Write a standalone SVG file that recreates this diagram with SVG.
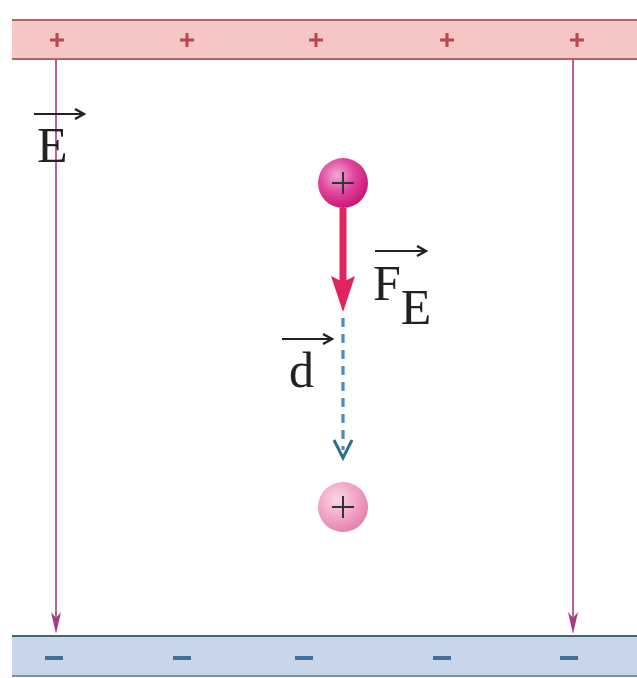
<svg xmlns="http://www.w3.org/2000/svg" width="637" height="678" viewBox="0 0 637 678">
<style>
.plus{stroke:#b8474f;stroke-width:3;fill:none}
.minus{stroke:#3f6f9a;stroke-width:4;fill:none}
.field{stroke:#a83a7e;stroke-width:1.6;fill:none}
.fhead{fill:#a83a7e}
.lbl{font-family:"Liberation Serif",serif;fill:#222}
.vec{stroke:#222;stroke-width:2.2;fill:none}
.cplus{stroke:#333;stroke-width:2;fill:none}
</style>
<defs>
<marker id="vecHead" markerWidth="12" markerHeight="12" refX="10" refY="6" orient="auto" markerUnits="userSpaceOnUse" viewBox="0 0 12 12">
<path d="M1,1 L10,6 L1,11" fill="none" stroke="#222" stroke-width="2.4"/>
</marker>
<radialGradient id="gq1" cx="0.38" cy="0.35" r="0.7">
<stop offset="0" stop-color="#f6a8d8"/>
<stop offset="0.5" stop-color="#e0469e"/>
<stop offset="1" stop-color="#c8136e"/>
</radialGradient>
<radialGradient id="gq2" cx="0.38" cy="0.35" r="0.7">
<stop offset="0" stop-color="#fbd6e6"/>
<stop offset="0.6" stop-color="#f0a0c4"/>
<stop offset="1" stop-color="#e27fad"/>
</radialGradient>
</defs>
<rect width="637" height="678" fill="#ffffff"/>

<g id="top-plate">
<rect x="12" y="20" width="625" height="39" fill="#f5c6c4"/>
<line x1="12" y1="20" x2="637" y2="20" stroke="#a86868" stroke-width="2"/>
<line x1="12" y1="59" x2="637" y2="59" stroke="#a86868" stroke-width="2"/>
<path class="plus" d="M50,40 h14 M57,33 v14 M180,40 h14 M187,33 v14 M309,40 h14 M316,33 v14 M440,40 h14 M447,33 v14 M570,40 h14 M577,33 v14"/>
</g>

<g id="bottom-plate">
<rect x="12" y="636" width="625" height="40" fill="#c8d5ea"/>
<line x1="12" y1="636" x2="637" y2="636" stroke="#3d6872" stroke-width="2"/>
<line x1="12" y1="676" x2="637" y2="676" stroke="#7f93a8" stroke-width="2"/>
<path class="minus" d="M45,658 h18 M173,658 h18 M295,658 h18 M433,658 h18 M560,658 h18"/>
</g>

<g id="connectors">
<line class="field" x1="56" y1="60" x2="56" y2="624"/>
<path class="fhead" d="M51,612 L56,634 L61,612 L56,618 Z"/>
<line class="field" x1="573" y1="60" x2="573" y2="624"/>
<path class="fhead" d="M568,612 L573,634 L578,612 L573,618 Z"/>
<line x1="343" y1="208" x2="343" y2="282" stroke="#e0245e" stroke-width="7"/>
<path d="M331,276 L343,312 L355,276 L343,282 Z" fill="#e0245e"/>
<line x1="343" y1="318" x2="343" y2="450" stroke="#4d8db0" stroke-width="3.2" stroke-dasharray="9,7"/>
<path d="M334,440 L343,458 L352,440" fill="none" stroke="#2f6f8a" stroke-width="3"/>
</g>

<g id="E-label">
<line class="vec" x1="34" y1="114" x2="84" y2="114" marker-end="url(#vecHead)"/>
<text class="lbl" x="37" y="162" font-size="50">E</text>
</g>

<g id="charge-initial">
<circle cx="343" cy="183" r="25" fill="url(#gq1)"/>
<path class="cplus" d="M332,183 h22 M343,172 v22"/>
</g>

<g id="FE-label">
<line class="vec" x1="375" y1="251" x2="426" y2="251" marker-end="url(#vecHead)"/>
<text class="lbl" x="373" y="300" font-size="50">F<tspan dy="24">E</tspan></text>
</g>

<g id="d-label">
<line class="vec" x1="282" y1="339" x2="332" y2="339" marker-end="url(#vecHead)"/>
<text class="lbl" x="289" y="387" font-size="50">d</text>
</g>

<g id="charge-final">
<circle cx="343" cy="507" r="25" fill="url(#gq2)"/>
<path class="cplus" d="M332,507 h22 M343,496 v22"/>
</g>
</svg>
